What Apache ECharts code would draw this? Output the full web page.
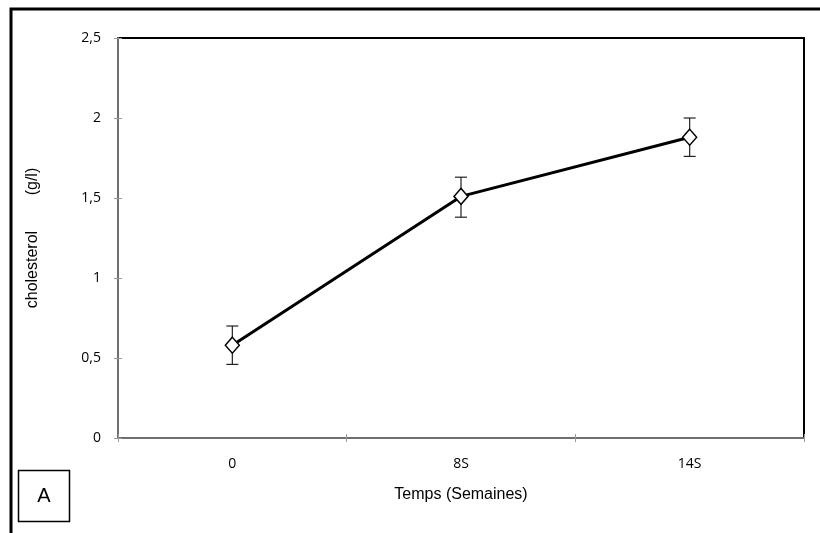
<!DOCTYPE html>
<html><head><meta charset="utf-8">
<script src="https://cdn.jsdelivr.net/npm/echarts@6/dist/echarts.min.js"></script>
<style>html,body{margin:0;padding:0;background:#fff}#c{width:820px;height:533px}</style>
</head><body><div id="c"></div>
<script>
var categories = ['0', '8S', '14S'];
var cholesterol = [0.58, 1.51, 1.88];
var errLow = [0.46, 1.38, 1.76];
var errHigh = [0.70, 1.63, 2.00];

var chart = echarts.init(document.getElementById('c'));
var errData = categories.map(function (c, i) { return [i, errLow[i], errHigh[i]]; });

chart.setOption({
  animation: false,
  backgroundColor: '#fff',
  grid: { left: 118, right: 16, top: 38, bottom: 95, show: true, borderColor: '#000', borderWidth: 2 },
  xAxis: [{
    type: 'category', data: categories, boundaryGap: true,
    axisLine: { lineStyle: { color: '#6e6e6e', width: 2 } },
    axisTick: { show: true, length: 4, lineStyle: { color: '#999', width: 1 } },
    axisLabel: { color: '#000', fontFamily: 'Open Sans', fontSize: 14, margin: 19 },
    name: 'Temps (Semaines)', nameLocation: 'middle', nameGap: 49,
    nameTextStyle: { color: '#000', fontFamily: 'Liberation Sans', fontSize: 16 },
    splitLine: { show: false }
  }, {
    type: 'category', data: categories, boundaryGap: true, position: 'bottom',
    axisLine: { show: false }, axisLabel: { show: false },
    axisTick: { show: true, inside: true, length: 4, lineStyle: { color: '#999', width: 1 } }
  }],
  yAxis: [{
    type: 'value', min: 0, max: 2.5, interval: 0.5,
    axisLine: { show: true, lineStyle: { color: '#6e6e6e', width: 2 } },
    axisTick: { show: true, length: 4, lineStyle: { color: '#999', width: 1 } },
    axisLabel: { color: '#000', fontFamily: 'Open Sans', fontSize: 14, margin: 17,
      formatter: function (v) { return String(v).replace('.', ','); } },
    splitLine: { show: false },
    name: 'cholesterol        (g/l)', nameLocation: 'middle', nameGap: 77,
    nameTextStyle: { color: '#000', fontFamily: 'Liberation Sans', fontSize: 16 }
  }, {
    type: 'value', min: 0, max: 2.5, interval: 0.5, position: 'left',
    axisLine: { show: false }, axisLabel: { show: false }, splitLine: { show: false },
    axisTick: { show: true, inside: true, length: 4, lineStyle: { color: '#999', width: 1 } }
  }],
  series: [{
    type: 'custom',
    data: errData,
    z: 1,
    renderItem: function (params, api) {
      var x = api.value(0);
      var lo = api.coord([x, api.value(1)]);
      var hi = api.coord([x, api.value(2)]);
      var w = 6;
      var st = { stroke: '#222', lineWidth: 1.2 };
      return { type: 'group', children: [
        { type: 'line', shape: { x1: lo[0], y1: lo[1], x2: hi[0], y2: hi[1] }, style: st },
        { type: 'line', shape: { x1: lo[0] - w, y1: lo[1], x2: lo[0] + w, y2: lo[1] }, style: st },
        { type: 'line', shape: { x1: hi[0] - w, y1: hi[1], x2: hi[0] + w, y2: hi[1] }, style: st }
      ]};
    }
  }, {
    type: 'line',
    data: cholesterol,
    z: 3,
    symbol: 'diamond', symbolSize: [14, 16], showSymbol: true,
    lineStyle: { color: '#000', width: 3 },
    itemStyle: { color: '#fff', borderColor: '#000', borderWidth: 1.5 }
  }],
  graphic: [
    { type: 'rect', shape: { x: 11, y: 9, width: 900, height: 700 }, style: { fill: 'none', stroke: '#000', lineWidth: 3 }, silent: true },
    { type: 'rect', shape: { x: 18.5, y: 470.5, width: 51, height: 51 }, style: { fill: '#fff', stroke: '#000', lineWidth: 1.5 } },
    { type: 'text', x: 44, y: 496, style: { text: 'A', font: '20px "Liberation Sans"', fill: '#000', align: 'center', verticalAlign: 'middle' } }
  ]
});
</script></body></html>
